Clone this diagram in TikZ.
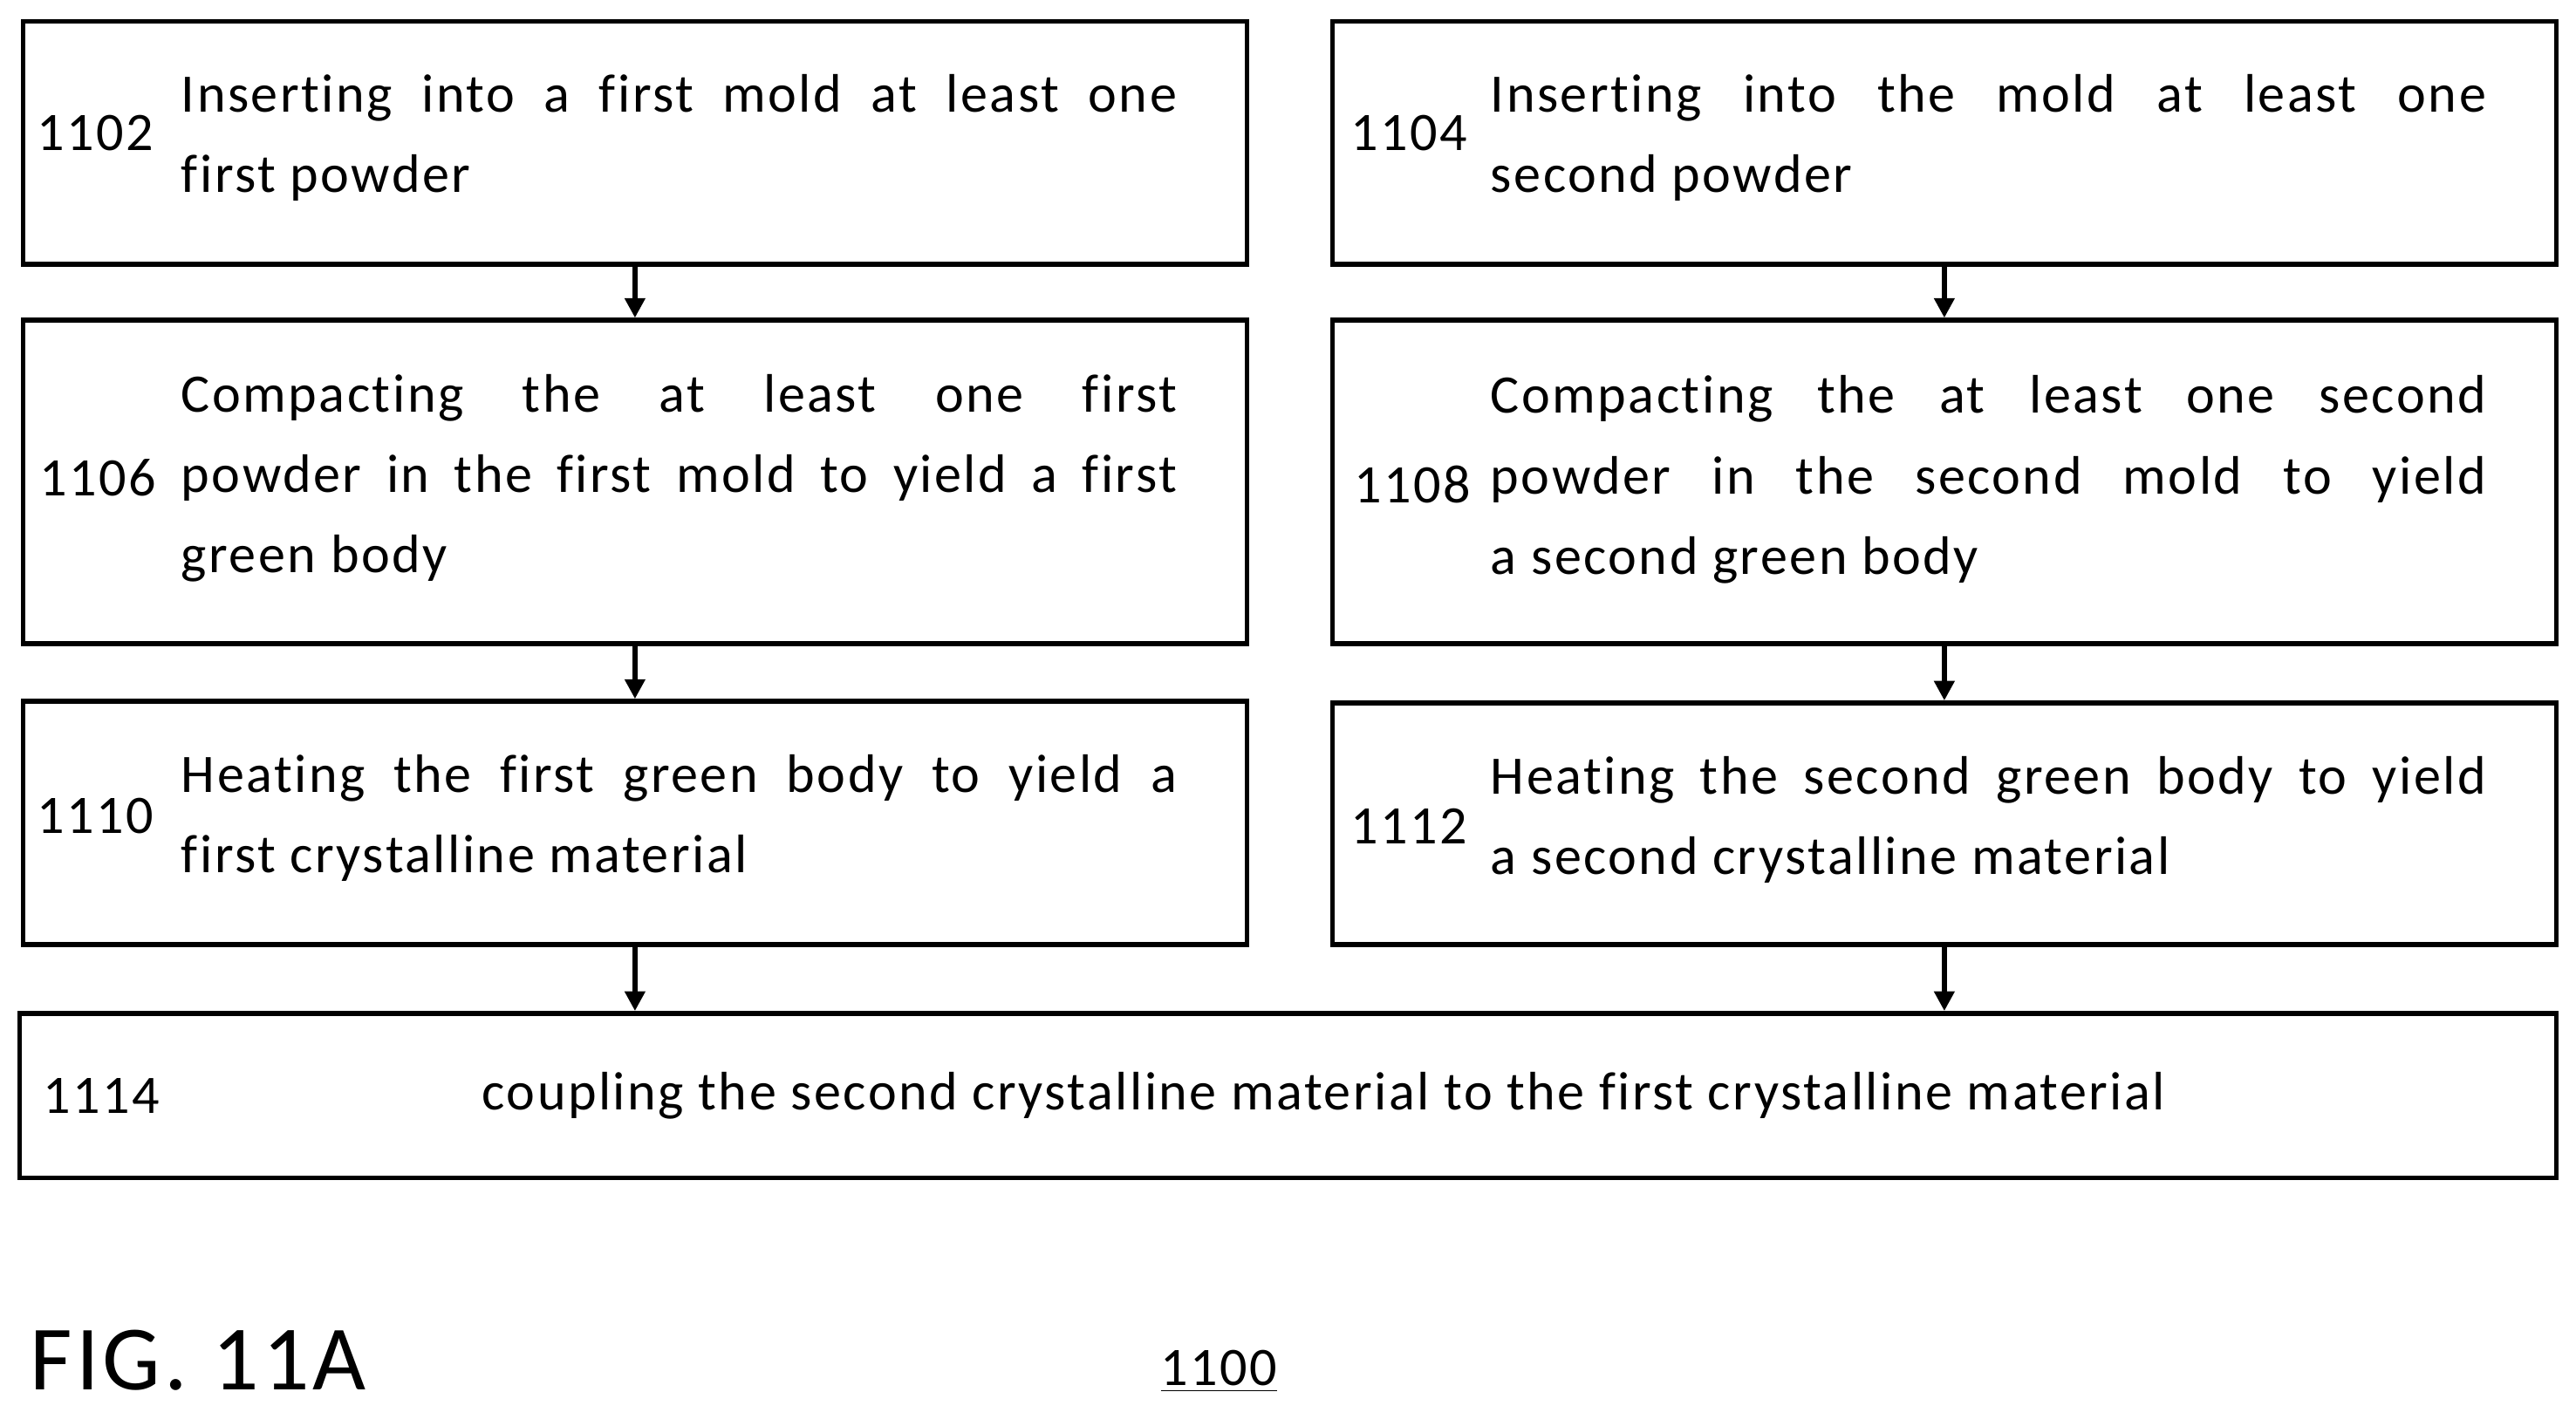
\documentclass[tikz,border=0pt]{standalone}
\usepackage{fontspec}
\setmainfont{Carlito}[LetterSpace=4,Ligatures=NoCommon]
\usetikzlibrary{positioning,arrows.meta}
\begin{document}
\begin{tikzpicture}[x=0.5pt,y=-0.5pt,
    stepbox/.style={rectangle, draw, line width=1.5pt, minimum width=372.5pt, inner sep=0pt},
    stepnum/.style={anchor=west, inner sep=0pt, font=\fontsize{16.5}{24.5}\selectfont},
    steptext/.style={anchor=west, inner sep=0pt, text width=303pt, align=justify,
      font=\fontsize{16.5}{24.5}\selectfont},
    flow/.style={-{Triangle[length=6pt,width=6pt]}, line width=1.5pt},
  ]
  \useasboundingbox (0,0) rectangle (1568,868);
  %Boxes
  \node[stepbox, minimum height=74pt]  (b1102) at (386.5,87)   {};
  \node[stepbox, minimum height=74pt]  (b1104) at (1183.5,87)  {};
  \node[stepbox, minimum height=98.5pt] (b1106) at (386.5,293.5) {};
  \node[stepbox, minimum height=98.5pt] (b1108) at (1183.5,293.5) {};
  \node[stepbox, minimum height=74pt]  (b1110) at (386.5,501)  {};
  \node[stepbox, minimum height=73.5pt] (b1112) at (1183.5,501.5) {};
  \node[stepbox, minimum width=772pt, minimum height=50pt] (b1114) at (784,667) {};

  %Labels
  \node[stepnum]  (n1102) at (22,81)  {1102};
  \node[steptext] (t1102) at (110,84) {Inserting into a first mold at least one\linebreak first powder};
  \node[stepnum]  (n1104) at (822,81) {1104};
  \node[steptext] (t1104) at (907,84) {Inserting into the mold at least one\linebreak second powder};
  \node[stepnum]  (n1106) at (24,291) {1106};
  \node[steptext] (t1106) at (110,291) {Compacting the at least one first\linebreak powder in the first mold to yield a first\linebreak green body};
  \node[stepnum]  (n1108) at (824,295) {1108};
  \node[steptext] (t1108) at (907,292) {Compacting the at least one second\linebreak powder in the second mold to yield\linebreak a second green body};
  \node[stepnum]  (n1110) at (22,497) {1110};
  \node[steptext] (t1110) at (110,498) {Heating the first green body to yield a\linebreak first crystalline material};
  \node[stepnum]  (n1112) at (822,503) {1112};
  \node[steptext] (t1112) at (907,499) {Heating the second green body to yield\linebreak a second crystalline material};
  \node[stepnum]  (n1114) at (26,667) {1114};
  \node[stepnum]  (t1114) at (293,667) {coupling the second crystalline material to the first crystalline material};

  \node[anchor=west, inner sep=0pt, font=\fontsize{28}{30}\selectfont] (fig) at (18,828) {FIG. 11A};
  \node[inner sep=0pt, font=\fontsize{16.5}{20}\selectfont] (ref) at (742,835) {\underline{1100}};

  %Lines
  \draw[flow] (b1102.south) -- (b1106.north);
  \draw[flow] (b1104.south) -- (b1108.north);
  \draw[flow] (b1106.south) -- (b1110.north);
  \draw[flow] (b1108.south) -- (b1112.north);
  \draw[flow] (b1110.south) -- (b1114.north -| b1110.south);
  \draw[flow] (b1112.south) -- (b1114.north -| b1112.south);
\end{tikzpicture}
\end{document}
